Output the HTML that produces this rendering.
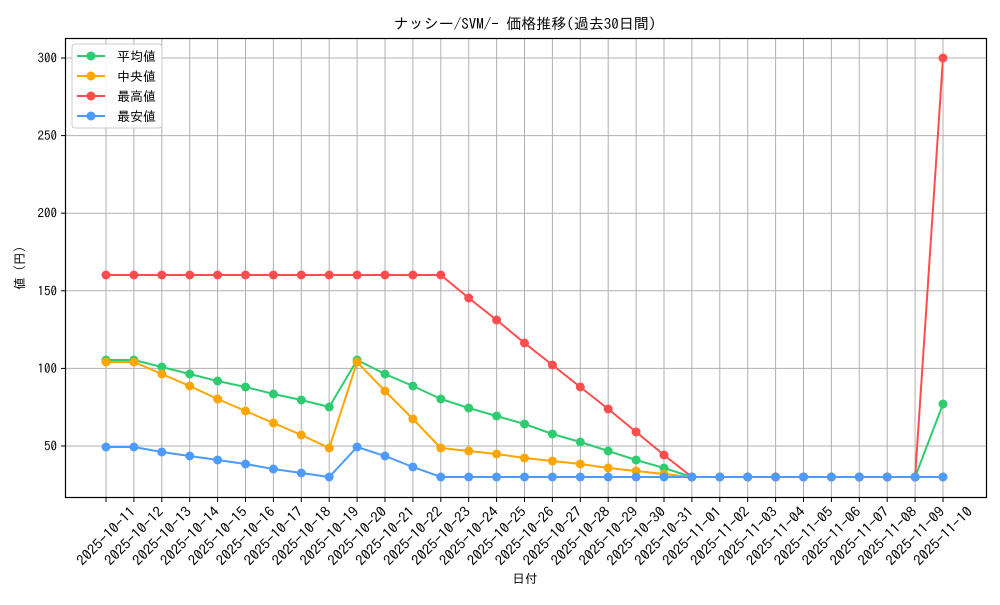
<!DOCTYPE html>
<html><head><meta charset="utf-8"><style>
html,body{margin:0;padding:0;background:#fff;}
svg text{font-family:"IPAGothic","Liberation Sans","Noto Sans CJK JP",sans-serif;fill:#000;}
</style></head><body>
<svg id="s" width="1000" height="600" xmlns="http://www.w3.org/2000/svg">
<rect width="1000" height="600" fill="#fff"/>
<g id="grid"></g>
<g id="series"></g>
<rect x="65.5" y="38.5" width="921" height="459" fill="none" stroke="#000" stroke-width="1.2"/>
<g id="ticks"></g>
<text x="525" y="29" font-size="15" text-anchor="middle">ナッシー/SVM/- 価格推移(過去30日間)</text>
<text x="525" y="583" font-size="12.5" text-anchor="middle">日付</text>
<text x="24" y="268" font-size="12.5" text-anchor="middle" transform="rotate(-90 24 268)">値 (円)</text>
<g>
<rect x="72" y="44" width="90" height="84" rx="3" fill="#fff" fill-opacity="0.85" stroke="#ccc"/>
<line x1="77" y1="56" x2="105" y2="56" stroke="#2ecc71" stroke-width="2"/><circle cx="91" cy="56" r="4.5" fill="#2ecc71"/>
<text x="117" y="61" font-size="13">平均値</text>
<line x1="77" y1="76" x2="105" y2="76" stroke="#ffa500" stroke-width="2"/><circle cx="91" cy="76" r="4.5" fill="#ffa500"/>
<text x="117" y="81" font-size="13">中央値</text>
<line x1="77" y1="96" x2="105" y2="96" stroke="#ff4d4d" stroke-width="2"/><circle cx="91" cy="96" r="4.5" fill="#ff4d4d"/>
<text x="117" y="101" font-size="13">最高値</text>
<line x1="77" y1="116" x2="105" y2="116" stroke="#4d9bff" stroke-width="2"/><circle cx="91" cy="116" r="4.5" fill="#4d9bff"/>
<text x="117" y="121" font-size="13">最安値</text>
</g>
</svg>
<script>
var NS="http://www.w3.org/2000/svg";
function el(p,t,a,txt){var e=document.createElementNS(NS,t);for(var k in a)e.setAttribute(k,a[k]);if(txt)e.textContent=txt;document.getElementById(p).appendChild(e);}
function X(i){return 106+27.9*i;}
function Y(v){return 446-(v-50)*1.552;}
var d0=new Date(Date.UTC(2025,9,11));
for(var i=0;i<31;i++){
 var x=X(i);
 el("grid","line",{x1:x,y1:38,x2:x,y2:497,stroke:"#b0b0b0","stroke-width":1});
 el("ticks","line",{x1:x,y1:497,x2:x,y2:502,stroke:"#000"});
 var d=new Date(d0.getTime()+i*864e5);
 var s=d.toISOString().slice(0,10);
 el("ticks","text",{x:x,y:541,"font-size":14,"text-anchor":"middle",textLength:76,lengthAdjust:"spacingAndGlyphs",transform:"rotate(-45 "+x+" 536)"},s);
}
[50,100,150,200,250,300].forEach(function(v){var y=Y(v);
 el("grid","line",{x1:65,y1:y,x2:986,y2:y,stroke:"#b0b0b0","stroke-width":1});
 el("ticks","line",{x1:61,y1:y,x2:65,y2:y,stroke:"#000"});
 el("ticks","text",{x:57,y:y+4.5,"font-size":13,"text-anchor":"end"},String(v));});
var P={
avg:[360,360,367,374,381,387,394,400,407,360,374,386,399,408,416,424,434,442,451,460,468,477,477,477,477,477,477,477,477,477,404],
med:[362,362,374,386,399,411,423,435,448,362,391,419,448,451,454,458,461,464,468,471,474,477,477,477,477,477,477,477,477,477,477],
max:[275,275,275,275,275,275,275,275,275,275,275,275,275,298,320,343,365,387,409,432,455,477,477,477,477,477,477,477,477,477,58],
min:[447,447,452,456,460,464,469,473,477,447,456,467,477,477,477,477,477,477,477,477,477,477,477,477,477,477,477,477,477,477,477]};
var C={avg:"#2ecc71",med:"#ffa500",max:"#ff4d4d",min:"#4d9bff"};
["avg","med","max","min"].forEach(function(k){
 var pts=P[k].map(function(y,i){return X(i)+","+y;}).join(" ");
 el("series","polyline",{points:pts,fill:"none",stroke:C[k],"stroke-width":2});
 P[k].forEach(function(y,i){el("series","circle",{cx:X(i),cy:y,r:4.5,fill:C[k]});});
});
</script>
</body></html>
